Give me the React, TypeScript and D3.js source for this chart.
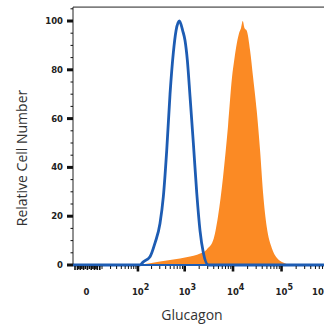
import React from 'react';
import * as d3 from 'd3';

// histogram (intensity, relative count)
const blueIntensity = [-9.8, 60, 110, 132, 185, 237, 303, 357, 421, 494, 580, 660, 774, 911, 1017, 1136, 1293, 1514, 1781, 2084, 2439, 3094, 750000];
const blueCount = [0, 0, 0, 1.3, 3.4, 9, 17, 28, 47, 70, 87, 96, 100, 96, 92, 84, 69, 50, 29.5, 14, 5, 0, 0];

const orangeIntensity = [111, 185, 494, 1293, 1806, 2292, 2906, 3870, 4907, 6220, 7890, 9550, 10600, 11550, 13310, 14600, 15880, 17300, 19200, 22450, 25900, 30900, 36100, 41650, 49600, 62900, 79700, 107500, 150000];
const orangeCount = [0, 0.7, 2, 3.5, 4.2, 5, 6.5, 10, 20, 36, 57, 77, 84, 89, 95, 97, 100, 97, 96, 88, 77, 63, 47, 29.5, 15.6, 7, 3, 1, 0];

const yMajor = [0, 20, 40, 60, 80, 100];
const yMinor = [5, 10, 15, 25, 30, 35, 45, 50, 55, 65, 70, 75, 85, 90, 95, 105];

const xDecades = [100, 1000, 10000, 100000];
const xDecadeExp = ['2', '3', '4', '5'];
const xLinearTicks = [-8, -6, -5, -4, -3, -2, -1, 0, 1, 2, 3, 4, 5, 6, 8];

const W = 324;
const H = 327;

const App = () => {
    const x = d3.scaleSymlog().constant(10).domain([-9.8, 750000]).range([73, 324]);
    const y = d3.scaleLinear().domain([0, 100]).range([265, 21]);
    const top = y(105.7);

    const minorX: number[] = [];
    [10, 100, 1000, 10000, 100000].forEach(d => {
        for (let k = 1; k <= 9; k++) {
            if (k === 1 && d >= 100) continue;
            minorX.push(d * k);
        }
    });

    const blue = blueIntensity.map((v, i) => ({ v, c: blueCount[i] }));
    const orange = orangeIntensity.map((v, i) => ({ v, c: orangeCount[i] }));

    const line = d3.line<{ v: number; c: number }>()
        .x(d => x(d.v))
        .y(d => y(d.c))
        .curve(d3.curveMonotoneX);

    const area = d3.area<{ v: number; c: number }>()
        .x(d => x(d.v))
        .y0(y(0))
        .y1(d => y(d.c))
        .curve(d3.curveMonotoneX);

    const tickFont = { fontFamily: 'DejaVu Sans', fontWeight: 'bold' as const, fontSize: 8.5, fill: '#222' };

    return (
        <svg width={W} height={H} style={{ position: 'absolute', left: 0, top: 0 }}>
            <rect width={W} height={H} fill="#fff" />
            <path d={area(orange) || ''} fill="#fb8a24" />
            <path d={line(blue) || ''} fill="none" stroke="#1d5cb3" strokeWidth={2.8} />

            {/* frame */}
            <line x1={73} x2={324} y1={top} y2={top} stroke="#222" strokeWidth={1} />
            <line x1={73} x2={73} y1={top} y2={y(0)} stroke="#222" strokeWidth={1} />

            {/* y ticks */}
            {yMajor.map(d => (
                <g key={'ym' + d}>
                    <line x1={67} x2={73} y1={y(d)} y2={y(d)} stroke="#111" strokeWidth={3} />
                    <text x={63} y={y(d)} dy="0.35em" textAnchor="end" style={tickFont}>{d}</text>
                </g>
            ))}
            {yMinor.map(d => (
                <line key={'yn' + d} x1={70.5} x2={73} y1={y(d)} y2={y(d)} stroke="#111" strokeWidth={1} />
            ))}

            {/* x ticks */}
            {xLinearTicks.map(d => (
                <line key={'xl' + d} x1={x(d)} x2={x(d)} y1={y(0)} y2={y(0) + (d % 2 === 0 ? 5 : 4)} stroke="#111" strokeWidth={1.6} />
            ))}
            {minorX.map(d => (
                <line key={'xn' + d} x1={x(d)} x2={x(d)} y1={y(0)} y2={y(0) + 4} stroke="#111" strokeWidth={1} />
            ))}
            {xDecades.map(d => (
                <line key={'xm' + d} x1={x(d)} x2={x(d)} y1={y(0)} y2={y(0) + 6.5} stroke="#111" strokeWidth={2.6} />
            ))}

            {/* x labels */}
            <text x={x(0) - 1} y={295} textAnchor="middle" style={tickFont}>0</text>
            {xDecades.map((d, i) => (
                <text key={'xt' + d} x={x(d) - 6} y={295} style={tickFont}>
                    10<tspan dy={-5} fontSize={8}>{xDecadeExp[i]}</tspan>
                </text>
            ))}
            <text x={312} y={295} style={tickFont}>10</text>

            {/* blue baseline on top */}
            <line x1={73} x2={324} y1={y(0)} y2={y(0)} stroke="#1d5cb3" strokeWidth={2} />

            {/* titles */}
            <text transform={`translate(27,158) rotate(-90)`} textAnchor="middle"
                style={{ fontFamily: 'Open Sans', fontSize: 14, fill: '#333' }}>Relative Cell Number</text>
            <text x={192} y={320} textAnchor="middle"
                style={{ fontFamily: 'Open Sans', fontSize: 14, fill: '#333' }}>Glucagon</text>
        </svg>
    );
};

export default App;
